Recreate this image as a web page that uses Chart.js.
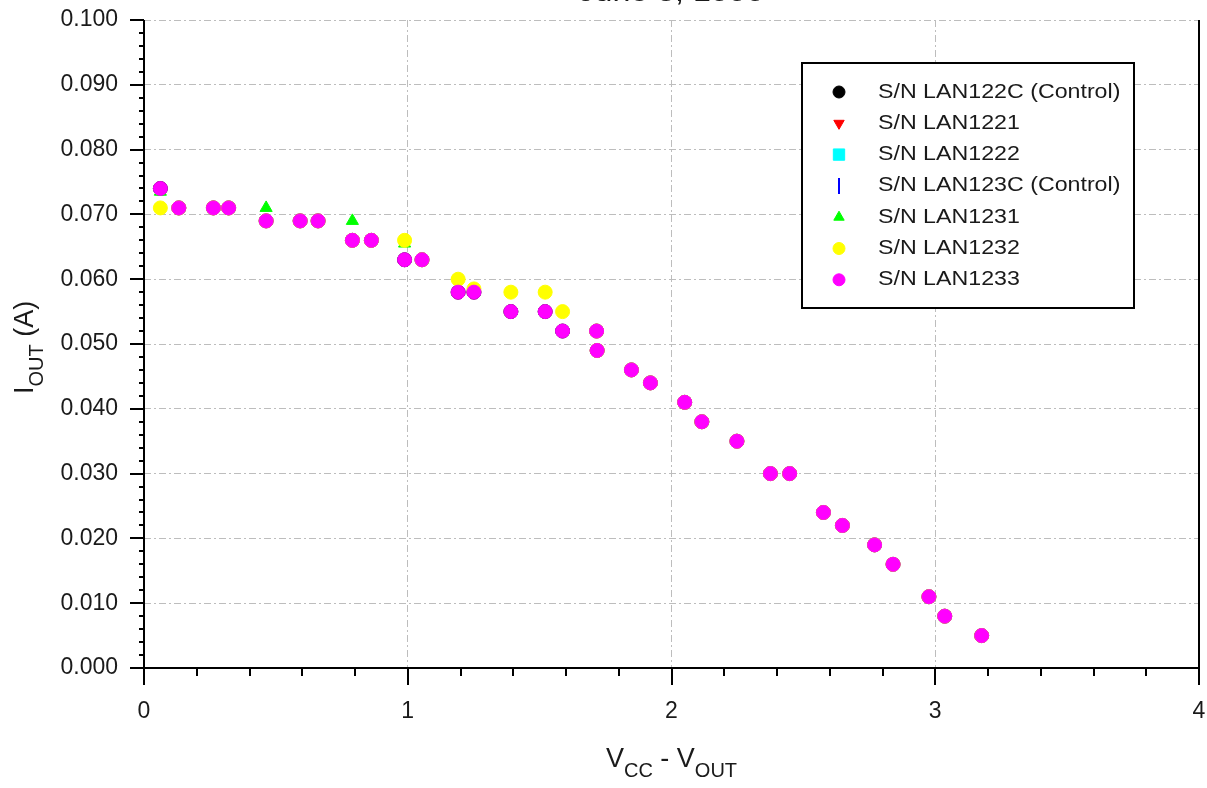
<!DOCTYPE html>
<html>
<head>
<meta charset="utf-8">
<script src="https://cdn.jsdelivr.net/npm/chart.js@4.4.1/dist/chart.umd.min.js"></script>
<style>
  html, body { margin: 0; padding: 0; background: #fff; }
</style>
</head>
<body>
<canvas id="ioutChart" width="1207" height="788"></canvas>
<script>
// V_CC - V_OUT (shared by all parts)
const vDrop = [0.062, 0.132, 0.263, 0.321, 0.463, 0.592, 0.660, 0.790, 0.862, 0.988, 1.054,
  1.191, 1.251, 1.391, 1.521, 1.587, 1.716, 1.718, 1.848, 1.920, 2.050, 2.115, 2.248,
  2.375, 2.448, 2.576, 2.648, 2.770, 2.840, 2.976, 3.036, 3.176];

// I_OUT (A) per serial number
const lan122c = [0.074, 0.071, 0.071, 0.071, 0.069, 0.069, 0.069, 0.066, 0.066, 0.063, 0.063,
  0.058, 0.058, 0.055, 0.055, 0.052, 0.052, 0.049, 0.046, 0.044, 0.041, 0.038, 0.035,
  0.030, 0.030, 0.024, 0.022, 0.019, 0.016, 0.011, 0.008, 0.005];
const lan1221 = [0.071, 0.071, 0.071, 0.071, 0.069, 0.069, 0.069, 0.066, 0.066, 0.066, 0.063,
  0.060, 0.058, 0.058, 0.058, 0.055, 0.052, 0.049, 0.046, 0.044, 0.041, 0.038, 0.035,
  0.030, 0.030, 0.024, 0.022, 0.019, 0.016, 0.011, 0.008, 0.005];
const lan1222 = [0.071, 0.071, 0.071, 0.071, 0.069, 0.069, 0.069, 0.066, 0.066, 0.066, 0.063,
  0.060, 0.058, 0.058, 0.058, 0.055, 0.052, 0.049, 0.046, 0.044, 0.041, 0.038, 0.035,
  0.030, 0.030, 0.024, 0.022, 0.019, 0.016, 0.011, 0.008, 0.005];
const lan123c = [0.074, 0.071, 0.071, 0.071, 0.069, 0.069, 0.069, 0.066, 0.066, 0.063, 0.063,
  0.058, 0.058, 0.055, 0.055, 0.052, 0.052, 0.049, 0.046, 0.044, 0.041, 0.038, 0.035,
  0.030, 0.030, 0.024, 0.022, 0.019, 0.016, 0.011, 0.008, 0.005];
const lan1231 = [0.0735, 0.071, 0.071, 0.071, 0.071, 0.069, 0.069, 0.069, 0.066, 0.0655, 0.063,
  0.058, 0.058, 0.055, 0.055, 0.052, 0.052, 0.049, 0.046, 0.044, 0.041, 0.038, 0.035,
  0.030, 0.030, 0.024, 0.022, 0.019, 0.016, 0.011, 0.008, 0.005];
const lan1232 = [0.071, 0.071, 0.071, 0.071, 0.069, 0.069, 0.069, 0.066, 0.066, 0.066, 0.063,
  0.060, 0.0585, 0.058, 0.058, 0.055, 0.052, 0.049, 0.046, 0.044, 0.041, 0.038, 0.035,
  0.030, 0.030, 0.024, 0.022, 0.019, 0.016, 0.011, 0.008, 0.005];
const lan1233 = [0.074, 0.071, 0.071, 0.071, 0.069, 0.069, 0.069, 0.066, 0.066, 0.063, 0.063,
  0.058, 0.058, 0.055, 0.055, 0.052, 0.052, 0.049, 0.046, 0.044, 0.041, 0.038, 0.035,
  0.030, 0.030, 0.024, 0.022, 0.019, 0.016, 0.011, 0.008, 0.005];

const seriesLabels = ['S/N LAN122C (Control)', 'S/N LAN1221', 'S/N LAN1222', 'S/N LAN123C (Control)',
  'S/N LAN1231', 'S/N LAN1232', 'S/N LAN1233'];
const seriesValues = [lan122c, lan1221, lan1222, lan123c, lan1231, lan1232, lan1233];
const seriesColors = ['#000000', '#ff0000', '#00ffff', '#0000ff', '#00ff00', '#ffff00', '#ff00ff'];
const seriesShapes = ['circle', 'triangle', 'rect', 'line', 'triangle', 'circle', 'circle'];
const seriesRotation = [0, 180, 0, 90, 0, 0, 0];
const seriesRadius = [7, 6, 6, 6, 7, 7, 7];
const legendRadius = [6, 6, 8, 8, 6, 6, 6];

const FONT = '"Liberation Sans", Arial, sans-serif';
const TEXT = '#1a1a1a';

const datasets = seriesLabels.map((label, i) => ({
    label: label,
    data: vDrop.map((v, k) => ({ x: v, y: seriesValues[i][k] })),
    pointStyle: seriesShapes[i],
    pointRotation: seriesRotation[i],
    pointRadius: seriesRadius[i],
    pointBackgroundColor: seriesColors[i],
    pointBorderColor: seriesColors[i],
    pointBorderWidth: seriesShapes[i] === 'line' ? 2 : 1,
    showLine: false,
    order: seriesLabels.length - 1 - i
}));

// draws the text with a sub-script part, left aligned at (x, y) baseline
function drawSubText(ctx, parts, x, y) {
    let cx = x;
    parts.forEach(p => {
        ctx.font = p.sub ? '20px ' + FONT : '27px ' + FONT;
        ctx.fillText(p.t, cx, y + (p.sub ? 10 : 0));
        cx += ctx.measureText(p.t).width;
    });
    return cx - x;
}

const framePlugin = {
    id: 'frame',
    beforeDatasetsDraw(chart) {
        const { ctx, chartArea: a, scales: { x, y } } = chart;
        ctx.save();
        ctx.strokeStyle = '#000';
        ctx.lineWidth = 2;
        ctx.beginPath();
        ctx.moveTo(a.left, a.top);
        ctx.lineTo(a.left, a.bottom);
        ctx.lineTo(a.right, a.bottom);
        ctx.lineTo(a.right, a.top);
        ctx.stroke();

        ctx.beginPath();
        for (let i = 0; i <= 20; i++) {
            const px = Math.round(x.getPixelForValue(i * 0.2));
            ctx.moveTo(px, a.bottom);
            ctx.lineTo(px, a.bottom + (i % 5 === 0 ? 17 : 8));
        }
        for (let i = 0; i <= 50; i++) {
            const py = Math.round(y.getPixelForValue(i * 0.002));
            ctx.moveTo(a.left, py);
            ctx.lineTo(a.left - (i % 5 === 0 ? 14 : 5), py);
        }
        ctx.stroke();
        ctx.restore();
    },
    afterDraw(chart) {
        const { ctx, chartArea: a } = chart;
        ctx.save();
        ctx.fillStyle = TEXT;
        ctx.textBaseline = 'alphabetic';
        ctx.textAlign = 'left';

        // title, mostly cut off at the top edge
        ctx.font = '28px ' + FONT;
        const title = 'June 3, 1999';
        const tw = ctx.measureText(title).width * 1.15;
        ctx.save();
        ctx.translate((a.left + a.right) / 2 - tw / 2, 1);
        ctx.scale(1.15, 1);
        ctx.fillText(title, 0, 0);
        ctx.restore();

        // x axis title
        const xParts = [{ t: 'V' }, { t: 'CC', sub: true }, { t: ' - V' }, { t: 'OUT', sub: true }];
        ctx.globalAlpha = 0;
        const xw = drawSubText(ctx, xParts, 0, -100);
        ctx.globalAlpha = 1;
        drawSubText(ctx, xParts, (a.left + a.right) / 2 - xw / 2, 767);

        // y axis title
        ctx.save();
        ctx.translate(33, 394);
        ctx.rotate(-Math.PI / 2);
        drawSubText(ctx, [{ t: 'I' }, { t: 'OUT', sub: true }, { t: ' (A)' }], 0, 0);
        ctx.restore();

        // legend box
        ctx.fillStyle = '#fff';
        ctx.fillRect(802, 63, 332, 245);
        ctx.strokeStyle = '#000';
        ctx.lineWidth = 2;
        ctx.strokeRect(802, 63, 332, 245);
        ctx.font = '20px ' + FONT;
        ctx.textBaseline = 'middle';
        chart.data.datasets.forEach((ds, i) => {
            const cy = 92 + i * 31.3;
            ctx.fillStyle = ds.pointBackgroundColor;
            ctx.strokeStyle = ds.pointBorderColor;
            ctx.lineWidth = ds.pointBorderWidth;
            Chart.helpers.drawPoint(ctx, {
                pointStyle: ds.pointStyle,
                rotation: ds.pointRotation,
                radius: legendRadius[i],
                borderWidth: ds.pointBorderWidth
            }, 839, cy);
            ctx.fillStyle = TEXT;
            ctx.save();
            ctx.translate(878, cy);
            ctx.scale(1.16, 1);
            ctx.fillText(ds.label, 0, 0);
            ctx.restore();
        });
        ctx.restore();
    }
};

new Chart(document.getElementById('ioutChart'), {
    type: 'scatter',
    data: { datasets: datasets },
    options: {
        responsive: false,
        animation: false,
        layout: { padding: { top: 20, right: 2, left: 0, bottom: 0 } },
        plugins: {
            legend: { display: false },
            tooltip: { enabled: false }
        },
        scales: {
            x: {
                type: 'linear',
                min: 0,
                max: 4,
                ticks: {
                    stepSize: 1,
                    padding: 30,
                    color: TEXT,
                    font: { family: FONT, size: 23 },
                    maxRotation: 0
                },
                grid: { color: '#bdbdbd', lineWidth: 1, drawTicks: false },
                border: { display: false, dash: [7, 3, 2, 3] },
                afterFit: s => {
                    s.height = 120;
                    s.paddingLeft = 0;
                    s.paddingRight = 0;
                }
            },
            y: {
                type: 'linear',
                min: 0,
                max: 0.1,
                ticks: {
                    stepSize: 0.01,
                    padding: 26,
                    color: TEXT,
                    font: { family: FONT, size: 23 },
                    callback: v => v.toFixed(3)
                },
                grid: { color: '#bdbdbd', lineWidth: 1, drawTicks: false },
                border: { display: false, dash: [7, 3, 2, 3] },
                afterFit: s => {
                    s.width = 144;
                    s.paddingTop = 0;
                    s.paddingBottom = 0;
                }
            }
        }
    },
    plugins: [framePlugin]
});
</script>
</body>
</html>
